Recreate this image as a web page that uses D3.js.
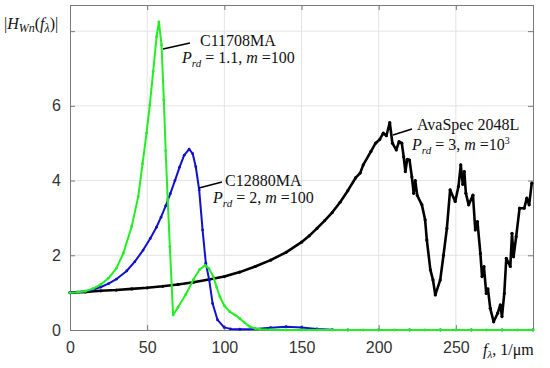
<!DOCTYPE html>
<html>
<head>
<meta charset="utf-8">
<script src="https://cdn.jsdelivr.net/npm/d3@7"></script>
<style>
  body { margin: 0; background: #fff; }
  .tick text { font-family: "Liberation Sans", Arial, sans-serif; font-size: 16px; fill: #333; }
  .note { font-family: "Liberation Serif", "Times New Roman", serif; font-size: 16px; fill: #111; }
</style>
</head>
<body>
<div id="chart"></div>
<script>
// C11708MA, P_rd = 1.1, m = 100
const greenX = [0, 5, 10, 15, 20, 25, 30, 34.5, 40, 44.2, 47, 49.6, 51.7, 53.9, 56.1, 57.6, 59.3, 60.8, 62, 63.3, 64.7, 66.8,
  70, 75, 80, 84, 87.5, 90, 92.8, 95, 97.1, 100, 103.5, 107, 110, 113, 116.5, 120, 123, 130,
  140, 150, 160, 170, 180, 190, 200, 210, 220, 230, 240, 250, 260, 270, 280, 290, 300];
const greenY = [1, 1.01, 1.04, 1.11, 1.22, 1.39, 1.65, 2.05, 2.77, 3.57, 4.45, 5.27, 6.02, 6.92, 7.85, 8.25, 7.63, 6.16, 4.8, 3.5, 2.23, 0.4,
  0.61, 0.95, 1.35, 1.62, 1.73, 1.65, 1.43, 1.15, 0.89, 0.65, 0.49, 0.4, 0.31, 0.2, 0.09, 0.04, 0.02, 0.01,
  0, 0, 0, 0, 0, 0, 0, 0, 0, 0, 0, 0, 0, 0, 0, 0, 0];

// C12880MA, P_rd = 2, m = 100
const blueX = [0, 5, 10, 15, 20, 25, 30, 36.7, 42, 47.4, 52, 56, 59, 62, 65, 68, 71, 74, 77.2, 79.5, 81.5, 83.7, 85.9, 88, 90.2, 92.4, 95.6, 99.9, 104,
  110, 120, 130, 140, 150, 160, 170, 180, 200, 220, 240, 260, 280, 300];
const blueY = [1, 1.01, 1.04, 1.08, 1.15, 1.24, 1.36, 1.58, 1.83, 2.14, 2.45, 2.75, 3.02, 3.32, 3.65, 4.0, 4.36, 4.68, 4.84, 4.72, 4.37, 3.75, 2.68, 1.79, 1.34, 0.71, 0.27, 0.07, 0.03,
  0.02, 0.03, 0.06, 0.09, 0.07, 0.03, 0.01, 0, 0, 0, 0, 0, 0, 0];

// AvaSpec 2048L, P_rd = 3, m = 10^3
const blackX = [0, 10, 20, 30, 40, 50, 60, 70, 80, 90, 100, 110, 120, 130, 140, 150, 155, 160, 165, 170, 175, 180, 185, 188, 190, 195, 198,
  200.7, 203, 205, 207.2, 208.9, 211.4, 213.2, 215, 216.2, 217.3, 218.5, 220, 221.5, 222.7, 223.7, 225, 228, 230.1, 231.2, 233.5, 235.2, 236.7,
  239.9, 242, 244.2, 246.3, 249.6, 251.7, 253.2, 254.5, 255.5, 256.5, 258.3, 261.1, 262.6, 264, 265.9, 267, 268.2, 269.7, 270.8,
  272.3, 274.5, 277.1, 278.8, 279.9, 281.4, 282.7, 285.3, 286.4, 287.4, 289.1, 291.3, 294.3, 296, 297.5, 299.2];
const blackY = [1, 1.02, 1.05, 1.07, 1.1, 1.13, 1.17, 1.22, 1.28, 1.35, 1.43, 1.55, 1.7, 1.87, 2.08, 2.35, 2.52, 2.72, 2.93, 3.15, 3.42, 3.73, 4.07, 4.2, 4.42, 4.78, 5.0,
  5.1, 5.27, 5.2, 5.55, 5.0, 4.82, 5.04, 5.0, 4.64, 4.24, 4.57, 4.55, 4.1, 3.66, 4.0, 3.6, 3.35, 2.95, 2.41, 1.61, 1.34, 0.94,
  1.34, 2.0, 2.72, 3.75, 3.44, 3.84, 4.42, 3.9, 4.24, 3.66, 3.35, 3.61, 2.68, 2.9, 2.05, 1.43, 1.7, 0.98, 1.1,
  0.58, 0.22, 0.45, 0.67, 0.36, 0.98, 1.92, 1.7, 2.59, 1.96, 2.5, 3.26, 3.26, 3.53, 3.35, 3.93];

const xTicks = [0, 50, 100, 150, 200, 250, 300];
const xTickLabels = ["0", "50", "100", "150", "200", "250", ""];
const yTicks = [0, 2, 4, 6, 8];
const yTickLabels = ["0", "2", "4", "6", ""];

const width = 550, height = 368;
const margin = { left: 70, right: 17, top: 5, bottom: 38 };

const svg = d3.select("#chart").append("svg")
    .attr("width", width)
    .attr("height", height);

const x = d3.scaleLinear().domain([0, 300]).range([margin.left, width - margin.right]);
const y = d3.scaleLinear().domain([0, 8.7]).range([height - margin.bottom, margin.top]);

// grid
svg.append("g").selectAll("line").data(xTicks.slice(1, -1)).join("line")
    .attr("x1", d => x(d)).attr("x2", d => x(d))
    .attr("y1", y(0)).attr("y2", y(8.7))
    .attr("stroke", "#e3e3e3").attr("stroke-width", 1);
svg.append("g").selectAll("line").data(yTicks.slice(1)).join("line")
    .attr("x1", x(0)).attr("x2", x(300))
    .attr("y1", d => y(d)).attr("y2", d => y(d))
    .attr("stroke", "#e3e3e3").attr("stroke-width", 1);

// axes, matlab style ticks inside
const axisColor = "#7a7a7a";
function styleAxis(g) {
    g.select(".domain").attr("stroke", axisColor);
    g.selectAll(".tick line").attr("stroke", axisColor);
}
svg.append("g")
    .attr("transform", "translate(0," + y(0) + ")")
    .call(d3.axisBottom(x).tickValues(xTicks).tickFormat((d, i) => xTickLabels[i]).tickSizeInner(-5).tickSizeOuter(0).tickPadding(12))
    .call(styleAxis);
svg.append("g")
    .attr("transform", "translate(0," + y(8.7) + ")")
    .call(d3.axisTop(x).tickValues(xTicks).tickFormat("").tickSizeInner(-5).tickSizeOuter(0))
    .call(styleAxis);
svg.append("g")
    .attr("transform", "translate(" + x(0) + ",0)")
    .call(d3.axisLeft(y).tickValues(yTicks).tickFormat((d, i) => yTickLabels[i]).tickSizeInner(-5).tickSizeOuter(0).tickPadding(9))
    .call(styleAxis);
svg.append("g")
    .attr("transform", "translate(" + x(300) + ",0)")
    .call(d3.axisRight(y).tickValues(yTicks).tickFormat("").tickSizeInner(-5).tickSizeOuter(0))
    .call(styleAxis);

// series
const series = [
    { xs: blackX, ys: blackY, color: "#000000", w: 2.6, r: 1.6 },
    { xs: blueX, ys: blueY, color: "#1010d0", w: 2, r: 1.4 },
    { xs: greenX, ys: greenY, color: "#22ee22", w: 2, r: 1.4 }
];
const line = d3.line().x(d => x(d[0])).y(d => y(d[1]));
series.forEach(s => {
    const pts = s.xs.map((v, i) => [v, s.ys[i]]);
    svg.append("path").datum(pts)
        .attr("d", line)
        .attr("fill", "none")
        .attr("stroke", s.color)
        .attr("stroke-width", s.w)
        .attr("stroke-linejoin", "round");
    svg.append("g").selectAll("circle").data(pts).join("circle")
        .attr("cx", d => x(d[0])).attr("cy", d => y(d[1]))
        .attr("r", s.r).attr("fill", s.color);
});

// annotations
const notes = [
    { name: "C11708MA", prd: "1.1", m: "100", sup: "", lx1: 163, ly1: 49, lx2: 190, ly2: 43, tx: 200, ty: 46, px: 182, py: 63 },
    { name: "C12880MA", prd: "2", m: "100", sup: "", lx1: 199, ly1: 188, lx2: 222, ly2: 182, tx: 225, ty: 186, px: 213, py: 203 },
    { name: "AvaSpec 2048L", prd: "3", m: "10", sup: "3", lx1: 393, ly1: 135, lx2: 412, ly2: 129, tx: 417, ty: 130, px: 412, py: 150 }
];
notes.forEach(n => {
    svg.append("line")
        .attr("x1", n.lx1).attr("y1", n.ly1).attr("x2", n.lx2).attr("y2", n.ly2)
        .attr("stroke", "#000").attr("stroke-width", 1.6);
    svg.append("text").attr("class", "note").attr("x", n.tx).attr("y", n.ty).text(n.name);
    const t = svg.append("text").attr("class", "note").attr("x", n.px).attr("y", n.py);
    t.append("tspan").attr("font-style", "italic").text("P");
    t.append("tspan").attr("font-style", "italic").attr("font-size", 11).attr("dy", 4).text("rd");
    t.append("tspan").attr("dy", -4).text(" = " + n.prd + ", ");
    t.append("tspan").attr("font-style", "italic").text("m");
    t.append("tspan").text(" =" + n.m);
    if (n.sup) t.append("tspan").attr("font-size", 10).attr("dy", -6).text(n.sup);
});

// y label
const yl = svg.append("text").attr("class", "note").attr("x", 4).attr("y", 29).attr("font-size", 18);
yl.append("tspan").text("|");
yl.append("tspan").attr("font-style", "italic").text("H");
yl.append("tspan").attr("font-style", "italic").attr("font-size", 12).attr("dy", 3).text("Wn");
yl.append("tspan").attr("dy", -3).text("(");
yl.append("tspan").attr("font-style", "italic").text("f");
yl.append("tspan").attr("font-style", "italic").attr("font-size", 12).attr("dy", 3).text("λ");
yl.append("tspan").attr("dy", -3).text(")|");

// x label
const xl = svg.append("text").attr("class", "note").attr("x", 483).attr("y", 355).attr("font-size", 16);
xl.append("tspan").attr("font-style", "italic").text("f");
xl.append("tspan").attr("font-style", "italic").attr("font-size", 11).attr("dy", 3).text("λ");
xl.append("tspan").attr("dy", -3).text(", 1/μm");
</script>
</body>
</html>
